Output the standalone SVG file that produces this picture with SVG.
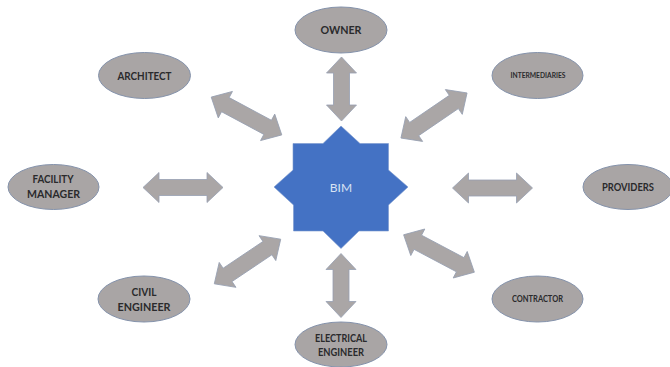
<svg xmlns="http://www.w3.org/2000/svg" width="670" height="367" viewBox="0 0 670 367">
<style>
.bg{fill:#fff}
.n{fill:#a9a5a5;stroke:#8492ab;stroke-width:1}
.a{fill:#aaa6a6;stroke:#97a0b2;stroke-width:.8;stroke-linejoin:miter}
.t{font-family:"Lato","Liberation Sans",sans-serif;font-weight:700;fill:#2a2a2c;text-anchor:middle;lengthAdjust:spacingAndGlyphs}
.l{font-size:11px}
.m{font-size:10.5px}
.s{font-size:9px}
.x{font-size:8px}
.star{fill:#4472c4;stroke:#7b98cf;stroke-width:.6}
.bim{font-family:"Lato","Liberation Sans",sans-serif;font-size:12px;fill:#d9e2f3;text-anchor:middle}
</style>
<defs>
<polygon id="arrowLong" class="a" points="-40,0 -24,-15 -24,-8 24,-8 24,-15 40,0 24,15 24,8 -24,8 -24,15"/>
<polygon id="arrowShort" class="a" points="-32,0 -16,-15 -16,-8 16,-8 16,-15 32,0 16,15 16,8 -16,8 -16,15"/>
</defs>
<rect class="bg" width="670" height="367"/>
<g id="connectors">
<use href="#arrowShort" transform="translate(341.5 89) rotate(90)"/>
<use href="#arrowShort" transform="translate(341 285.5) rotate(90)"/>
<use href="#arrowLong" transform="translate(246.5 116) rotate(28.2)"/>
<use href="#arrowLong" transform="translate(434 115.5) rotate(-34.3)"/>
<use href="#arrowLong" transform="translate(247.5 261.5) rotate(-33.9)"/>
<use href="#arrowLong" transform="translate(439 253.5) rotate(27.9)"/>
<use href="#arrowLong" transform="translate(183 187.5)"/>
<use href="#arrowLong" transform="translate(492.5 188)"/>
</g>
<g id="bim">
<polygon class="star" points="341,126 323,143.5 293,143.5 293,170 274,187 293.5,205 293.5,231 323,231 341,248.5 359,231 388.5,231 388.5,205 408,187 388.5,170 388.5,143.5 360,143.5"/>
<text class="bim" x="341" y="191.5">BIM</text>
</g>
<g id="owner">
<ellipse class="n" cx="341" cy="30" rx="46" ry="23"/>
<text class="t l" x="341" y="33.5" textLength="41" lengthAdjust="spacingAndGlyphs">OWNER</text>
</g>
<g id="architect">
<ellipse class="n" cx="144.5" cy="75.5" rx="46" ry="23"/>
<text class="t l" x="144.5" y="80" textLength="54" lengthAdjust="spacingAndGlyphs">ARCHITECT</text>
</g>
<g id="intermediaries">
<ellipse class="n" cx="537.5" cy="75.5" rx="45.5" ry="23"/>
<text class="t x" x="538" y="78" textLength="55" lengthAdjust="spacingAndGlyphs">INTERMEDIARIES</text>
</g>
<g id="facility-manager">
<ellipse class="n" cx="53.5" cy="187" rx="45.5" ry="22.5"/>
<text class="t l" x="53" y="183" textLength="41" lengthAdjust="spacingAndGlyphs">FACILITY</text>
<text class="t l" x="53.5" y="198" textLength="53" lengthAdjust="spacingAndGlyphs">MANAGER</text>
</g>
<g id="providers">
<ellipse class="n" cx="628" cy="187" rx="45" ry="22.5"/>
<text class="t m" x="628" y="191" textLength="52" lengthAdjust="spacingAndGlyphs">PROVIDERS</text>
</g>
<g id="civil-engineer">
<ellipse class="n" cx="144" cy="299" rx="46" ry="23"/>
<text class="t l" x="144" y="296" textLength="25" lengthAdjust="spacingAndGlyphs">CIVIL</text>
<text class="t l" x="144" y="311" textLength="53" lengthAdjust="spacingAndGlyphs">ENGINEER</text>
</g>
<g id="contractor">
<ellipse class="n" cx="537.5" cy="299" rx="45.5" ry="23"/>
<text class="t s" x="537.5" y="302" textLength="51" lengthAdjust="spacingAndGlyphs">CONTRACTOR</text>
</g>
<g id="electrical-engineer">
<ellipse class="n" cx="341" cy="344.5" rx="46" ry="22.5"/>
<text class="t m" x="341" y="342" textLength="52" lengthAdjust="spacingAndGlyphs">ELECTRICAL</text>
<text class="t m" x="341" y="356" textLength="46" lengthAdjust="spacingAndGlyphs">ENGINEER</text>
</g>
</svg>
